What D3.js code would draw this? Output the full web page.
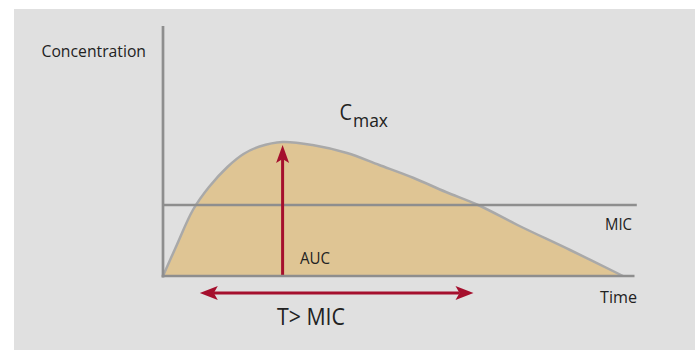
<!DOCTYPE html>
<html>
<head>
<meta charset="utf-8">
<script src="https://cdn.jsdelivr.net/npm/d3@7"></script>
<style>
  html, body { margin: 0; padding: 0; background: #ffffff; }
  svg { display: block; }
  text { font-family: "Open Sans", "Noto Sans", sans-serif; fill: #222222; }
</style>
</head>
<body>
<div id="chart"></div>
<script>
// ---- data ----
const time = [0, 0.3, 0.65, 1, 1.4, 1.75, 2.1, 2.6, 3.25, 4, 4.7, 5.45, 6.15, 6.85, 7.75, 8.85, 10];
const concentration = [0, 12.4, 26.4, 35.6, 43.6, 48.8, 51.8, 53.6, 52.4, 49.2, 44.4, 39.2, 33.6, 28.4, 20, 10.4, 0];
const micValue = 28.4;
const tMax = 2.6;
const cMax = 53.6;
const timeAboveMic = [0.8, 6.75];
const axisExtent = { time: [0, 10.25], conc: [0, 100] };
const micLineExtent = [0, 10.3];
const labels = { yAxis: "Concentration", xAxis: "Time", mic: "MIC", auc: "AUC", tmic: "T> MIC", cmaxMain: "C", cmaxSub: "max" };

// ---- drawing ----
const W = 698, H = 350;
const svg = d3.select("#chart").append("svg").attr("width", W).attr("height", H);
svg.append("rect").attr("x", 14).attr("y", 9).attr("width", 681).attr("height", 341).attr("fill", "#e0e0e0");

const x = d3.scaleLinear().domain([0, 10]).range([163, 623]);
const y = d3.scaleLinear().domain([0, 100]).range([276, 26]);

const pts = time.map((t, i) => [t, concentration[i]]);
const curve = d3.curveCatmullRom.alpha(0.5);
const area = d3.area().x(d => x(d[0])).y0(y(0)).y1(d => y(d[1])).curve(curve);
const line = d3.line().x(d => x(d[0])).y(d => y(d[1])).curve(curve);

svg.append("path").attr("d", area(pts)).attr("fill", "#dfc594");
svg.append("path").attr("d", line(pts)).attr("fill", "none").attr("stroke", "#a9a9a9").attr("stroke-width", 2.5);

const axisColor = "#8e8e8e";
// MIC line
svg.append("line").attr("x1", x(micLineExtent[0])).attr("x2", x(micLineExtent[1]))
  .attr("y1", y(micValue)).attr("y2", y(micValue)).attr("stroke", axisColor).attr("stroke-width", 2.7);

const red = "#a50f2d";
// vertical arrow (AUC / Cmax)
const ax = x(tMax), tipY = y(cMax) + 3, headL = 18, headW = 6.5, notch = 4;
svg.append("line").attr("x1", ax).attr("x2", ax).attr("y1", y(0)).attr("y2", tipY + headL - notch)
  .attr("stroke", red).attr("stroke-width", 3);
svg.append("path").attr("fill", red)
  .attr("d", `M${ax},${tipY} L${ax + headW},${tipY + headL} L${ax},${tipY + headL - notch} L${ax - headW},${tipY + headL} Z`);

// axes
svg.append("line").attr("x1", x(0)).attr("x2", x(0)).attr("y1", y(axisExtent.conc[1])).attr("y2", y(0) + 1.5)
  .attr("stroke", axisColor).attr("stroke-width", 2.7);
svg.append("line").attr("x1", x(0) - 1.35).attr("x2", x(axisExtent.time[1])).attr("y1", y(0)).attr("y2", y(0))
  .attr("stroke", axisColor).attr("stroke-width", 2.7);

// horizontal arrow (T > MIC)
const hy = y(0) + 17, hx1 = x(timeAboveMic[0]), hx2 = x(timeAboveMic[1]);
const hL = 18, hW = 7, hN = 4;
svg.append("line").attr("x1", hx1 + hL - hN).attr("x2", hx2 - hL + hN).attr("y1", hy).attr("y2", hy)
  .attr("stroke", red).attr("stroke-width", 3);
svg.append("path").attr("fill", red)
  .attr("d", `M${hx1},${hy} L${hx1 + hL},${hy - hW} L${hx1 + hL - hN},${hy} L${hx1 + hL},${hy + hW} Z`);
svg.append("path").attr("fill", red)
  .attr("d", `M${hx2},${hy} L${hx2 - hL},${hy - hW} L${hx2 - hL + hN},${hy} L${hx2 - hL},${hy + hW} Z`);

// text
function label(txt, px, py, size, width) {
  const t = svg.append("text").attr("x", px).attr("y", py).attr("font-size", size).text(txt);
  if (width) t.attr("textLength", width).attr("lengthAdjust", "spacingAndGlyphs");
  return t;
}
label(labels.yAxis, 41.5, 57, 17, 104.5);
label(labels.mic, 605, 230, 17, 27);
label(labels.xAxis, 600, 303, 17, 37);
label(labels.auc, 300, 264, 16, 30);
label(labels.tmic, 277, 325, 23, 68);
label(labels.cmaxMain, 339.5, 120, 21, 12.5);
label(labels.cmaxSub, 353, 126.5, 19, 35);
</script>
</body>
</html>
